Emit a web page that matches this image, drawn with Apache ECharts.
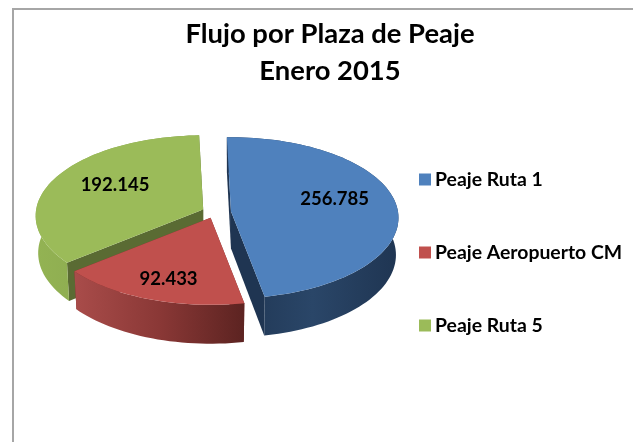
<!DOCTYPE html>
<html>
<head>
<meta charset="utf-8">
<title>Flujo por Plaza de Peaje</title>
<script src="https://cdn.jsdelivr.net/npm/echarts@6/dist/echarts.min.js"></script>
<style>
    html, body { margin: 0; padding: 0; background: #fff; }
    #main { width: 633px; height: 442px; }
</style>
</head>
<body>
<div id="main"></div>
<script>
    // datos de la grafica
    var categories = ['Peaje Ruta 1', 'Peaje Aeropuerto CM', 'Peaje Ruta 5'];
    var values = [256785, 92433, 192145];
    var labels = ['256.785', '92.433', '192.145'];

    var topColors = ['#4f81bd', '#c0504d', '#9bbb59'];
    var cutColors = ['#1f3552', '#7a2f2d', '#5a6b33'];
    var wallColors = [['#1f3552', '#2a4668', '#1f3552'], ['#a94c4a', '#8a3836', '#5c2321'], ['#93b353', '#8aa84f', '#7d9a45']];
    // orden de dibujo: primero lo de atras (verde, azul, rojo)
    var drawOrder = [2, 0, 1];

    var fontName = 'Lato, sans-serif';
    var centerX = 218, centerY = 212;
    var radiusX = 167, radiusY = 80;
    var perspective = 0.08, depth = 37, bottomScale = 0.985;
    var explode = 13, startAngle = -1.5;
    var sliceNudge = [0, -3, -3];
    var labelFactor = [0.63, 0.68, 0.6];
    var labelShift = [-7, 6, -5];

    var total = values.reduce(function (a, b) { return a + b; }, 0);

    // angulo en grados, 0 arriba y sentido horario
    function project(ox, oy, deg, r, bottom) {
        var t = deg * Math.PI / 180;
        var p = 1 / (1 + perspective * Math.cos(t));
        var x = radiusX * r * Math.sin(t) * p;
        var y = -radiusY * r * Math.cos(t) * p;
        if (bottom) {
            return [ox + x * bottomScale, oy + y * bottomScale + depth * p];
        }
        return [ox + x, oy + y];
    }

    function makeSlice(index) {
        return function (params, api) {
            var value = api.value(0);
            var before = 0;
            for (var i = 0; i < index; i++) {
                before += values[i];
            }
            var a0 = startAngle + before / total * 360;
            var a1 = a0 + value / total * 360;
            var mid = (a0 + a1) / 2 * Math.PI / 180;
            var ox = centerX + explode * Math.sin(mid) + sliceNudge[index];
            var oy = centerY - explode * radiusY / radiusX * Math.cos(mid);

            var rimTop = [], rimBottom = [];
            for (var d = a0; d < a1; d += 2) {
                rimTop.push(project(ox, oy, d, 1, false));
                rimBottom.push(project(ox, oy, d, 1, true));
            }
            rimTop.push(project(ox, oy, a1, 1, false));
            rimBottom.push(project(ox, oy, a1, 1, true));

            var apexTop = [ox, oy];
            var apexBottom = [ox, oy + depth];
            var wallStops = wallColors[index];

            var children = [];
            // paredes de corte
            children.push({
                type: 'polygon',
                shape: { points: [apexTop, rimTop[0], rimBottom[0], apexBottom] },
                style: { fill: cutColors[index] }
            });
            children.push({
                type: 'polygon',
                shape: { points: [apexTop, rimTop[rimTop.length - 1], rimBottom[rimBottom.length - 1], apexBottom] },
                style: { fill: cutColors[index] }
            });
            // pared exterior
            children.push({
                type: 'polygon',
                shape: { points: rimTop.concat(rimBottom.slice().reverse()) },
                style: {
                    fill: new echarts.graphic.LinearGradient(0, 0, 1, 0, [
                        { offset: 0, color: wallStops[0] },
                        { offset: 0.5, color: wallStops[1] },
                        { offset: 1, color: wallStops[2] }
                    ])
                }
            });
            // cara superior
            children.push({
                type: 'polygon',
                shape: { points: [apexTop].concat(rimTop) },
                style: { fill: topColors[index] }
            });
            // etiqueta
            var labelPoint = project(ox, oy, (a0 + a1) / 2, labelFactor[index], false);
            children.push({
                type: 'text',
                x: labelPoint[0],
                y: labelPoint[1] + labelShift[index],
                style: {
                    text: labels[index],
                    fill: '#000',
                    font: 'bold 18.5px ' + fontName,
                    align: 'center',
                    verticalAlign: 'middle'
                }
            });
            return { type: 'group', children: children };
        };
    }

    var series = drawOrder.map(function (index, pos) {
        return {
            name: categories[index],
            type: 'custom',
            coordinateSystem: 'none',
            z: 2 + pos,
            silent: true,
            itemStyle: { color: topColors[index] },
            renderItem: makeSlice(index),
            data: [[values[index]]]
        };
    });

    var myChart = echarts.init(document.getElementById('main'), null, { renderer: 'canvas' });
    var option = {
        backgroundColor: '#fff',
        animation: false,
        title: {
            text: 'Flujo por Plaza de Peaje\nEnero 2015',
            left: 325,
            top: 11,
            textAlign: 'center',
            textStyle: {
                color: '#000',
                fontFamily: fontName,
                fontWeight: 'bold',
                fontSize: 27.4,
                lineHeight: 37
            }
        },
        legend: {
            orient: 'vertical',
            left: 419,
            top: 170,
            data: categories,
            icon: 'rect',
            itemWidth: 12,
            itemHeight: 12,
            itemGap: 54,
            padding: 0,
            selectedMode: false,
            textStyle: {
                color: '#000',
                fontFamily: fontName,
                fontWeight: 'bold',
                fontSize: 19.4,
                padding: [0, 0, 0, -1]
            }
        },
        graphic: [{
            type: 'polyline',
            silent: true,
            shape: { points: [[13, 442], [13, 9], [633, 9]] },
            style: { stroke: '#a6a6a6', lineWidth: 2, fill: null }
        }],
        series: series
    };
    myChart.setOption(option);
</script>
</body>
</html>
